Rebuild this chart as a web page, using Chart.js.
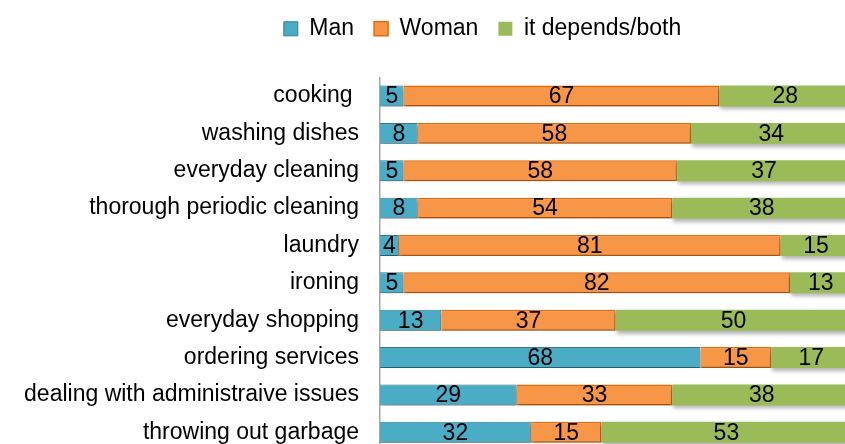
<!DOCTYPE html>
<html>
<head>
<meta charset="utf-8">
<script src="https://cdn.jsdelivr.net/npm/chart.js@4.4.0/dist/chart.umd.min.js"></script>
<style>
  html, body { margin: 0; padding: 0; background: #fff; overflow: hidden; }
  #wrap { position: absolute; left: 0; top: 0; width: 955px; height: 451px; }
</style>
</head>
<body>
<div id="wrap"><canvas id="chores-chart" width="955" height="451"></canvas></div>
<script>
// Who does the household chores (%)
const categories = [
    'cooking ', 'washing dishes', 'everyday cleaning', 'thorough periodic cleaning',
    'laundry', 'ironing', 'everyday shopping', 'ordering services',
    'dealing with administraive issues', 'throwing out garbage'
];
const manValues = [5, 8, 5, 8, 4, 5, 13, 68, 29, 32];
const womanValues = [67, 58, 58, 54, 81, 82, 37, 15, 33, 15];
const bothValues = [28, 34, 37, 38, 15, 13, 50, 17, 38, 53];

const FONT = '"Liberation Sans", Arial, sans-serif';

// soft drop shadow under the bars, like the office chart
const barShadow = {
    id: 'barShadow',
    beforeDatasetsDraw(chart) {
        const ctx = chart.ctx;
        ctx.save();
        ctx.shadowColor = 'rgba(0, 0, 0, 0.3)';
        ctx.shadowBlur = 4;
        ctx.shadowOffsetX = 1;
        ctx.shadowOffsetY = 3;
    },
    afterDatasetsDraw(chart) {
        chart.ctx.restore();
    }
};

// value labels in the middle of every segment
const segmentLabels = {
    id: 'segmentLabels',
    afterDatasetsDraw(chart) {
        const ctx = chart.ctx;
        ctx.save();
        ctx.font = '23px ' + FONT;
        ctx.fillStyle = '#000';
        ctx.textAlign = 'center';
        ctx.textBaseline = 'middle';
        chart.data.datasets.forEach((ds, i) => {
            chart.getDatasetMeta(i).data.forEach((bar, j) => {
                const p = bar.getCenterPoint();
                ctx.fillText(String(ds.data[j]), p.x, p.y + 1);
            });
        });
        ctx.restore();
    }
};

// extra room between the legend and the bars
const legendGap = {
    id: 'legendGap',
    beforeInit(chart) {
        const fit = chart.legend.fit;
        chart.legend.fit = function() {
            fit.bind(chart.legend)();
            this.height += 27;
        };
    }
};

const ctx = document.getElementById('chores-chart');
new Chart(ctx, {
    type: 'bar',
    data: {
        labels: categories,
        datasets: [{
            label: 'Man',
            data: manValues,
            backgroundColor: '#4BACC6',
            borderColor: '#357D91',
            borderWidth: 1
        }, {
            label: 'Woman',
            data: womanValues,
            backgroundColor: '#F79646',
            borderColor: '#E46C0A',
            borderWidth: 1.5
        }, {
            label: 'it depends/both',
            data: bothValues,
            backgroundColor: '#9BBB59',
            borderColor: '#9BBB59',
            borderWidth: 0
        }]
    },
    options: {
        indexAxis: 'y',
        responsive: false,
        animation: false,
        devicePixelRatio: 1,
        barPercentage: 0.56,
        categoryPercentage: 1,
        layout: {
            autoPadding: false,
            padding: { left: 10, right: 0, top: -2.7, bottom: 0 }
        },
        scales: {
            x: {
                stacked: true,
                min: 0,
                max: 122,   // the plot runs past the cropped right edge
                display: false
            },
            y: {
                stacked: true,
                grid: { display: false, drawTicks: false },
                border: { display: true, color: '#A6A6A6', width: 1.5 },
                ticks: {
                    color: '#000',
                    padding: 21,
                    font: { family: FONT, size: 23 }
                },
                afterFit(scale) {
                    scale.width = 370;
                    // labels sit on the row centres, no extra room needed
                    scale.paddingTop = 0;
                    scale.paddingBottom = 0;
                }
            }
        },
        plugins: {
            legend: {
                position: 'top',
                labels: {
                    boxWidth: 14,
                    boxHeight: 14,
                    padding: 20,
                    color: '#000',
                    font: { family: FONT, size: 23 }
                }
            },
            tooltip: { enabled: false }
        }
    },
    plugins: [barShadow, segmentLabels, legendGap]
});
</script>
</body>
</html>
